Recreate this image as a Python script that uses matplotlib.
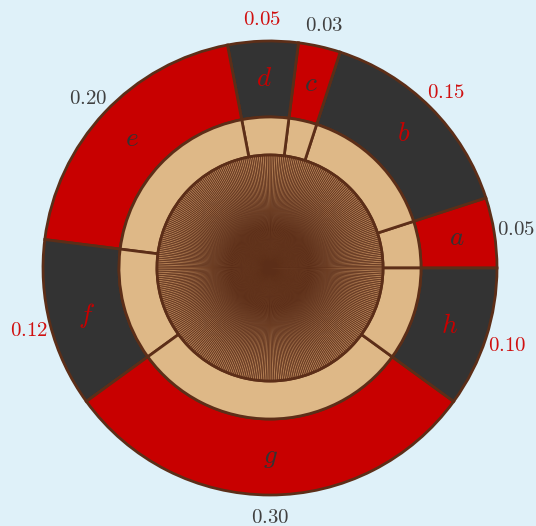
import matplotlib
matplotlib.use("Agg")
import matplotlib.pyplot as plt
import numpy as np

# data
labels = ['a', 'b', 'c', 'd', 'e', 'f', 'g', 'h']
values = [0.05, 0.15, 0.03, 0.05, 0.20, 0.12, 0.30, 0.10]
value_text = ['0.05', '0.15', '0.03', '0.05', '0.20', '0.12', '0.30', '0.10']

RED = '#c80000'
DARK = '#333333'
TAN = '#deb887'
BROWN = '#5c2e18'
BG = '#dff1f9'

plt.rcParams['mathtext.fontset'] = 'cm'

fig = plt.figure(figsize=(5.36, 5.26), dpi=100, facecolor=BG)
ax = fig.add_axes([0, 0, 1, 1])

cx, cy = 270, 258
r_out, r_mid, r_in = 227, 151, 113

seg_colors = [RED if i % 2 == 0 else DARK for i in range(len(values))]
txt_colors = [DARK if i % 2 == 0 else RED for i in range(len(values))]

# outer ring
ax.pie(values, radius=r_out, center=(cx, cy), startangle=0, counterclock=True,
       colors=seg_colors, frame=True,
       wedgeprops=dict(width=r_out - r_mid, edgecolor=BROWN, linewidth=2))
# middle ring
ax.pie(values, radius=r_mid, center=(cx, cy), startangle=0, counterclock=True,
       colors=[TAN] * len(values), frame=True,
       wedgeprops=dict(width=r_mid - r_in, edgecolor=BROWN, linewidth=2))
# inner disc made of many thin slices
n_fine = 360
ax.pie(np.ones(n_fine), radius=r_in, center=(cx, cy), startangle=0,
       colors=['#b07c52'] * n_fine, frame=True,
       wedgeprops=dict(edgecolor=BROWN, linewidth=0.5))
ax.add_patch(plt.Circle((cx, cy), r_in, fill=False, edgecolor=BROWN, linewidth=2))
ax.set_xlim(0, 536)
ax.set_ylim(0, 526)
ax.set_aspect('equal')
ax.axis('off')

# labels
cum = np.cumsum([0] + values)
for i, (lab, vt) in enumerate(zip(labels, value_text)):
    ang = np.deg2rad((cum[i] + values[i] / 2) * 360)
    r_lab = (r_out + r_mid) / 2
    ax.text(cx + r_lab * np.cos(ang), cy + r_lab * np.sin(ang), '$%s$' % lab,
            color=txt_colors[i], fontsize=19.5, ha='center', va='center')
    r_num = r_out + 22
    ax.text(cx + r_num * np.cos(ang), cy + r_num * np.sin(ang), '$%s$' % vt,
            color='#d01010' if txt_colors[i] == RED else '#404040', fontsize=15,
            ha='center', va='center')

fig.savefig('out.png', dpi=100, facecolor=BG)
